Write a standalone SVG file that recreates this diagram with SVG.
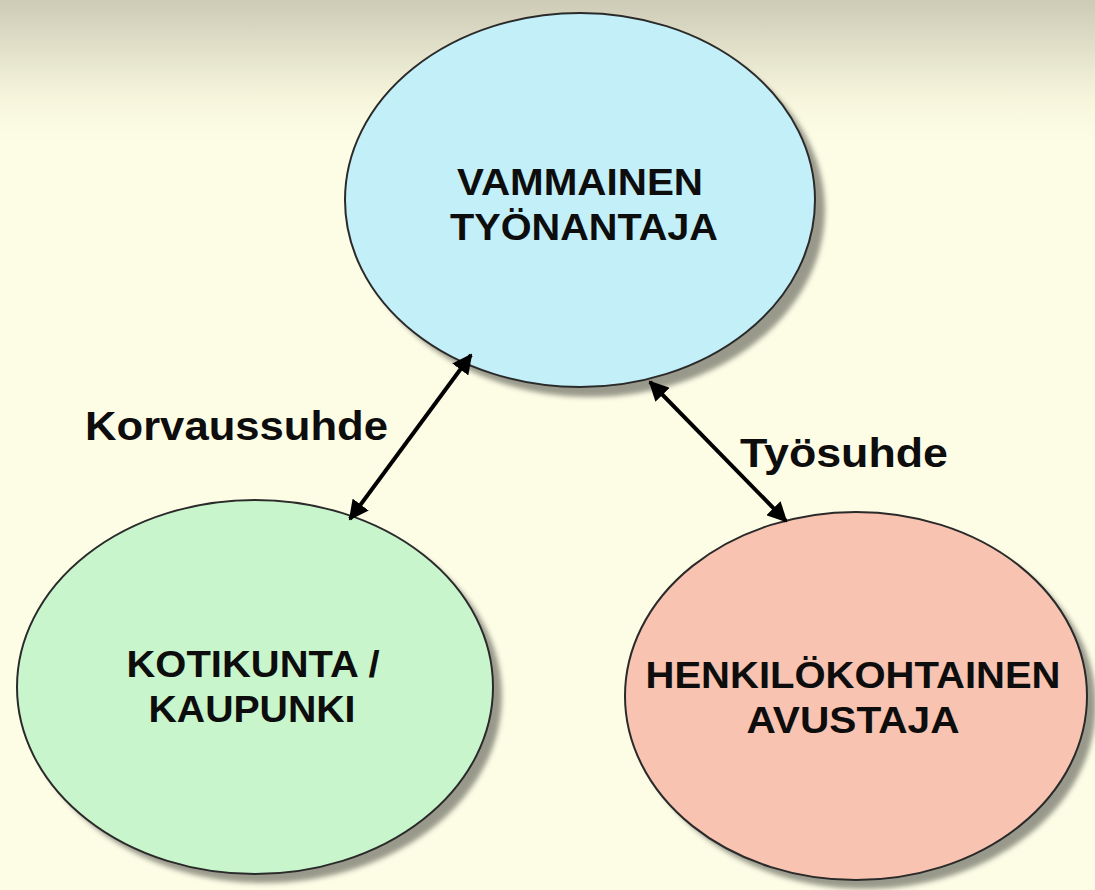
<svg xmlns="http://www.w3.org/2000/svg" width="1095" height="890" viewBox="0 0 1095 890">
<defs>
<linearGradient id="bg" x1="0" y1="0" x2="0" y2="1">
<stop offset="0" stop-color="#cdcbb6"/>
<stop offset="0.11" stop-color="#f6f5dc"/>
<stop offset="0.16" stop-color="#fdfde6"/>
<stop offset="1" stop-color="#fdfde6"/>
</linearGradient>
<filter id="blur" x="-10%" y="-10%" width="120%" height="120%"><feGaussianBlur stdDeviation="2.5"/></filter>
<marker id="ah" viewBox="0 0 10 10" refX="9" refY="5" markerWidth="5" markerHeight="5" orient="auto-start-reverse" markerUnits="strokeWidth">
<path d="M0,0 L10,5 L0,10 Z" fill="#000"/>
</marker>
<style>
.node{stroke:#2a2a2a;stroke-width:2}
.shadow{fill:#8f8f82;filter:url(#blur);opacity:0.9}
.nt{font-family:"Liberation Sans",Arial,sans-serif;font-weight:bold;font-size:36px;fill:#0d0d0d;text-anchor:middle}
.lbl{font-family:"Liberation Sans",Arial,sans-serif;font-weight:bold;font-size:41px;fill:#0d0d0d}
.conn{stroke:#000;stroke-width:4;fill:none}
</style>
</defs>
<rect width="1095" height="890" fill="url(#bg)"/>
<g id="node-tyonantaja">
<ellipse class="shadow" cx="590" cy="210" rx="235" ry="187"/>
<ellipse class="node" cx="580" cy="200" rx="235" ry="187" fill="#c3eff8"/>
<text class="nt" x="580" y="195" textLength="246" lengthAdjust="spacingAndGlyphs">VAMMAINEN</text>
<text class="nt" x="584" y="240" textLength="268" lengthAdjust="spacingAndGlyphs">TYÖNANTAJA</text>
</g>
<g id="node-kotikunta">
<ellipse class="shadow" cx="264" cy="696" rx="238" ry="187"/>
<ellipse class="node" cx="255" cy="687" rx="238" ry="187" fill="#c8f5cc"/>
<text class="nt" x="253" y="677" textLength="253" lengthAdjust="spacingAndGlyphs">KOTIKUNTA /</text>
<text class="nt" x="252" y="722" textLength="207" lengthAdjust="spacingAndGlyphs">KAUPUNKI</text>
</g>
<g id="node-avustaja">
<ellipse class="shadow" cx="865" cy="705" rx="231" ry="184"/>
<ellipse class="node" cx="856" cy="696" rx="231" ry="184" fill="#f8c3b0"/>
<text class="nt" x="853" y="688" textLength="415" lengthAdjust="spacingAndGlyphs">HENKILÖKOHTAINEN</text>
<text class="nt" x="853" y="733" textLength="213" lengthAdjust="spacingAndGlyphs">AVUSTAJA</text>
</g>
<g id="connectors">
<line class="conn" x1="350" y1="519" x2="471" y2="355" marker-start="url(#ah)" marker-end="url(#ah)"/>
<line class="conn" x1="650" y1="382" x2="786" y2="521" marker-start="url(#ah)" marker-end="url(#ah)"/>
<text class="lbl" x="85" y="440" textLength="303" lengthAdjust="spacingAndGlyphs">Korvaussuhde</text>
<text class="lbl" x="740" y="467" textLength="208" lengthAdjust="spacingAndGlyphs">Työsuhde</text>
</g>
</svg>
